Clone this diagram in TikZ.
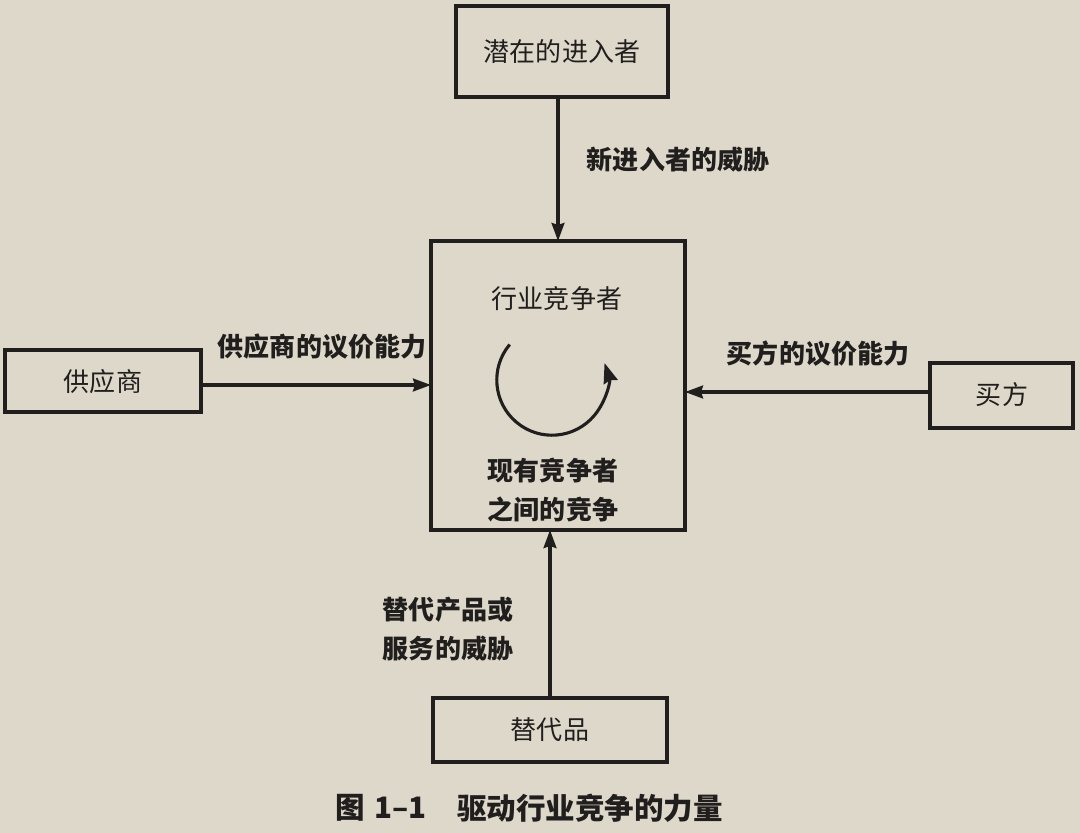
\documentclass[tikz,border=0pt]{standalone}
\usepackage{fontspec}
\setmainfont{Noto Sans CJK SC}
\usetikzlibrary{arrows.meta}
\definecolor{paper}{RGB}{222,216,203}
\definecolor{ink}{RGB}{33,31,30}
\tikzset{
  x=0.025cm, y=-0.025cm,
  box/.style={draw=ink, line width=2.6pt, fill=none, inner sep=0pt},
  boxtext/.style={text=ink, font=\fontsize{18.5}{22}\selectfont},
  lbl/.style={text=ink, font=\bfseries\fontsize{18.5}{22}\selectfont, align=left},
  twoline/.style={font=\bfseries\fontsize{18.5}{27.5}\selectfont},
  captext/.style={text=ink, font=\bfseries\fontsize{21}{26}\selectfont, anchor=west, inner sep=0pt},
  conn/.style={draw=ink, line width=2.3pt, -{Stealth[length=0.45cm, width=0.32cm, inset=0.05cm]}},
}
\begin{document}
\begin{tikzpicture}
\fill[paper] (0,0) rectangle (1080,833);
\useasboundingbox (0,0) rectangle (1080,833);
% boxes
\draw[box] (456,6) rectangle (668,97);
\node[boxtext] (entr) at (562,52) {潜在的进入者};
\coordinate (entrB) at (558,97);
\draw[box] (431,241) rectangle (685,530);
\coordinate (cenT) at (558,241);
\coordinate (cenL) at (431,385);
\coordinate (cenR) at (685,392);
\coordinate (cenB) at (550,530);
\node[boxtext] (ind) at (557,299) {行业竞争者};
\node[lbl, align=center, twoline] (riv) at (553,490) {现有竞争者\\之间的竞争};
\draw[box] (5,350) rectangle (201,412);
\node[boxtext] (sup) at (103,382) {供应商};
\coordinate (supR) at (201,385);
\draw[box] (930,363) rectangle (1073,428);
\node[boxtext] (buy) at (1002,395) {买方};
\coordinate (buyL) at (930,392);
\draw[box] (433,698) rectangle (667,762);
\node[boxtext] (subs) at (550,730) {替代品};
\coordinate (subsT) at (550,698);
% connectors
\draw[conn] (entrB) -- (cenT);
\draw[conn] (supR) -- (cenL);
\draw[conn] (buyL) -- (cenR);
\draw[conn] (subsT) -- (cenB);
% labels
\node[lbl, anchor=west] (l1) at (582,160) {新进入者的威胁};
\node[lbl, anchor=west] (l2) at (213,347) {供应商的议价能力};
\node[lbl, anchor=west] (l3) at (722,354) {买方的议价能力};
\node[lbl, anchor=west, twoline] (l4) at (378,629) {替代产品或\\服务的威胁};
% rotation arrow
\coordinate (rc) at (552,380);
\draw[ink, line width=2.2pt, -{Stealth[length=0.5cm, width=0.36cm, inset=0.05cm]}] (rc) ++(140:1.38cm) arc[start angle=140, end angle=378, radius=1.38cm];
% caption
\node[captext] (cap1) at (335,808) {图};
\node[captext] (cap2) at (374,808) {1–1};
\node[captext] (cap3) at (457,808) {驱动行业竞争的力量};
\end{tikzpicture}
\end{document}
